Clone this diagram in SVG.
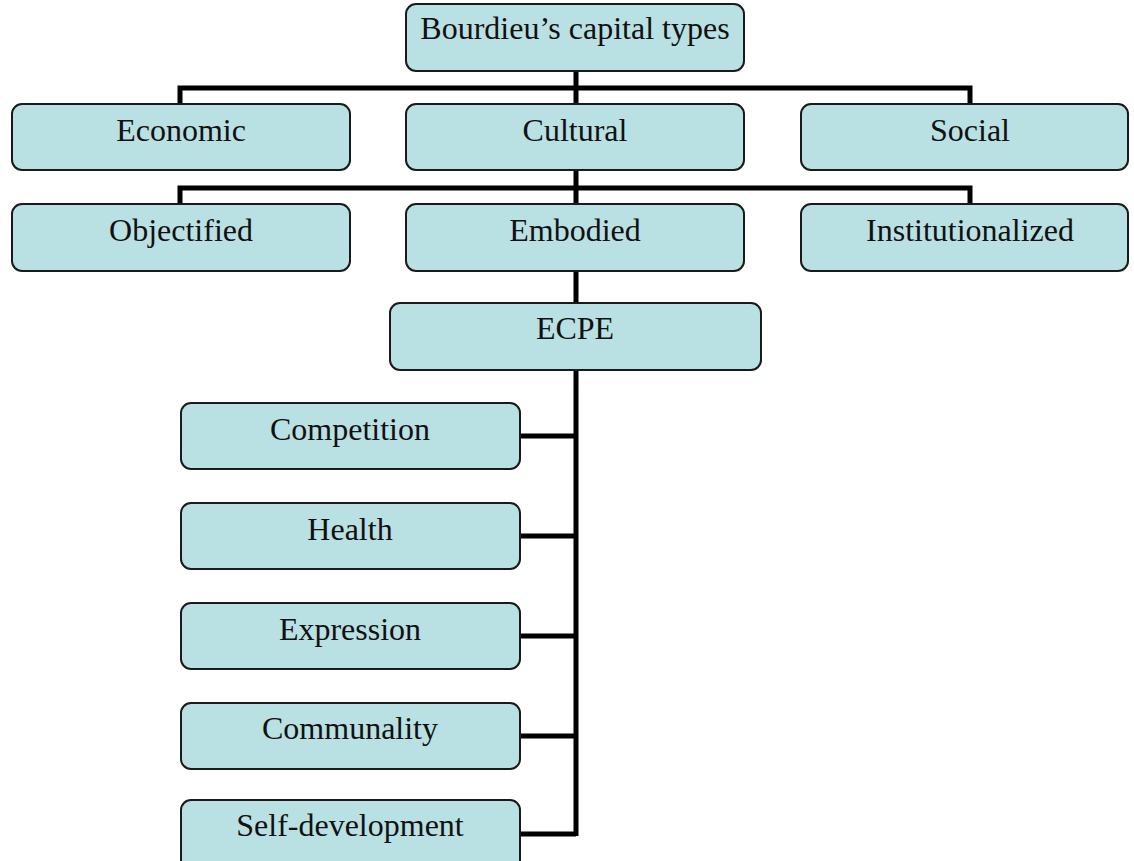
<svg xmlns="http://www.w3.org/2000/svg" width="1134" height="861" viewBox="0 0 1134 861">
<style>
.box{fill:#b9e0e3;stroke:#1a1a1a;stroke-width:2}
.lbl{font-family:"Liberation Serif",serif;font-size:32px;fill:#111;text-anchor:middle}
.con{fill:none;stroke:#000;stroke-width:5}
</style>
<rect width="1134" height="861" fill="#fff"/>
<g id="connectors">
<path class="con" d="M576 71V88M180 104V88H970V104M576 88V104"/>
<path class="con" d="M576 170V188M180 204V188H970V204M576 188V204"/>
<path class="con" d="M576 271V303"/>
<path class="con" d="M576 370V836M520 436H576M520 536H576M520 636H576M520 736H576M520 834H576"/>
</g>
<g id="n-root"><rect class="box" x="406" y="4" width="338" height="67" rx="10"/><text class="lbl" x="575" y="39">Bourdieu’s capital types</text></g>
<g id="n-economic"><rect class="box" x="12" y="104" width="338" height="66" rx="10"/><text class="lbl" x="181" y="141">Economic</text></g>
<g id="n-cultural"><rect class="box" x="406" y="104" width="338" height="66" rx="10"/><text class="lbl" x="575" y="141">Cultural</text></g>
<g id="n-social"><rect class="box" x="801" y="104" width="327" height="66" rx="10"/><text class="lbl" x="970" y="141">Social</text></g>
<g id="n-objectified"><rect class="box" x="12" y="204" width="338" height="67" rx="10"/><text class="lbl" x="181" y="241">Objectified</text></g>
<g id="n-embodied"><rect class="box" x="406" y="204" width="338" height="67" rx="10"/><text class="lbl" x="575" y="241">Embodied</text></g>
<g id="n-institutionalized"><rect class="box" x="801" y="204" width="327" height="67" rx="10"/><text class="lbl" x="970" y="241">Institutionalized</text></g>
<g id="n-ecpe"><rect class="box" x="390" y="303" width="371" height="67" rx="10"/><text class="lbl" x="575" y="339">ECPE</text></g>
<g id="n-competition"><rect class="box" x="181" y="403" width="339" height="66" rx="10"/><text class="lbl" x="350" y="440">Competition</text></g>
<g id="n-health"><rect class="box" x="181" y="503" width="339" height="66" rx="10"/><text class="lbl" x="350" y="540">Health</text></g>
<g id="n-expression"><rect class="box" x="181" y="603" width="339" height="66" rx="10"/><text class="lbl" x="350" y="640">Expression</text></g>
<g id="n-communality"><rect class="box" x="181" y="703" width="339" height="66" rx="10"/><text class="lbl" x="350" y="739">Communality</text></g>
<g id="n-selfdev"><rect class="box" x="181" y="800" width="339" height="70" rx="10"/><text class="lbl" x="350" y="836">Self-development</text></g>
</svg>
